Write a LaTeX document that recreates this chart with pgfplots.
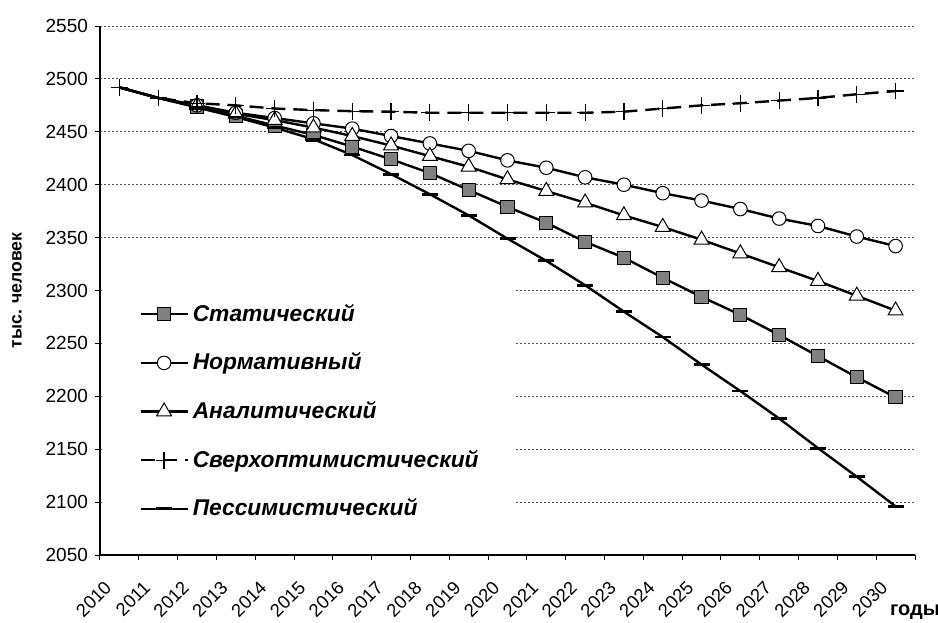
\documentclass[border=0pt]{standalone}
\usepackage{fontspec}
\setmainfont{Liberation Sans}
\usepackage{pgfplots}
\pgfplotsset{compat=1.18}
\definecolor{sqgray}{HTML}{808080}
\begin{document}
\begin{tikzpicture}
\path[use as bounding box] (-50pt,-33.5pt) rectangle (419pt,277.5pt);
\begin{axis}[
  at={(0,0)}, anchor=south west,
  scale only axis, width=407.5pt, height=264.5pt,
  xmin=-0.5, xmax=20.5, ymin=2050, ymax=2550,
  clip=false,
  axis x line*=bottom, axis y line*=left,
  axis line style={line width=0.6pt},
  xtick={0,...,20},
  xticklabels={2010,2011,2012,2013,2014,2015,2016,2017,2018,2019,2020,2021,2022,2023,2024,2025,2026,2027,2028,2029,2030},
  major x tick style={draw=none},
  minor xtick={-0.5,0.5,...,20.5},
  ytick={2050,2100,...,2550},
  tick align=outside,
  major tick length=2.5pt, minor tick length=2.5pt,
  tick style={black, line width=0.5pt},
  ymajorgrids,
  grid style={black!70, line width=0.5pt, dash pattern=on 1pt off 1pt},
  /pgf/number format/assume math mode=true,
  /pgf/number format/1000 sep={},
  yticklabel style={font=\fontsize{9.5}{11}\selectfont},
  xticklabel style={font=\fontsize{9.2}{11}\selectfont, xshift=-8pt, yshift=-5pt, rotate=45, anchor=north east},
  legend cell align=left,
  legend style={at={(axis cs:0.35,2295)}, anchor=north west, draw=none, fill=none,
    font=\bfseries\itshape\fontsize{11.4}{13}\selectfont, row sep=10.3pt},
  every axis plot/.append style={line width=1.2pt},
  legend image code/.code={\draw[mark indices={2}] plot coordinates {(0pt,0pt) (11.75pt,0pt) (23.5pt,0pt)};},
]
\fill[white] (axis cs:-0.45,2085) rectangle (axis cs:10.22,2306);
\addplot[black, mark=square*, mark size=3.3pt, mark indices={3,...,21}, mark options={solid, fill=sqgray, draw=black, line width=0.5pt}] coordinates {
(0,2492)(1,2482)(2,2474)(3,2465)(4,2456)(5,2447)(6,2436)(7,2424)(8,2411)(9,2395)(10,2379)
(11,2364)(12,2346)(13,2331)(14,2312)(15,2294)(16,2277)(17,2258)(18,2238)(19,2218)(20,2199)};
\addlegendentry{Статический}
\addplot[black, mark=*, mark size=3.4pt, mark indices={3,...,21}, mark options={solid, fill=white, draw=black, line width=0.5pt}] coordinates {
(0,2492)(1,2482)(2,2475)(3,2468)(4,2463)(5,2458)(6,2453)(7,2446)(8,2439)(9,2432)(10,2423)
(11,2416)(12,2407)(13,2400)(14,2392)(15,2385)(16,2377)(17,2368)(18,2361)(19,2351)(20,2342)};
\addlegendentry{Нормативный}
\addplot[black, mark=triangle*, mark size=4.3pt, mark indices={3,...,21}, mark options={solid, fill=white, draw=black, line width=0.5pt}] coordinates {
(0,2492)(1,2482)(2,2475)(3,2467)(4,2461)(5,2454)(6,2446)(7,2437)(8,2427)(9,2417)(10,2405)
(11,2394)(12,2383)(13,2371)(14,2360)(15,2348)(16,2335)(17,2322)(18,2309)(19,2295)(20,2281)};
\addlegendentry{Аналитический}
\addplot[black, dash pattern=on 7pt off 4pt, mark=+, mark size=4.2pt, mark options={solid, line width=0.6pt}] coordinates {
(0,2492)(1,2482)(2,2477)(3,2475)(4,2472)(5,2470.5)(6,2469.5)(7,2469)(8,2468)(9,2468)(10,2468)
(11,2468)(12,2468)(13,2469)(14,2472)(15,2475)(16,2477)(17,2479.5)(18,2482)(19,2485.5)(20,2488.5)};
\addlegendentry{Сверхоптимистический}
\addplot[black, mark=-, mark size=4pt, mark indices={3,...,21}, mark options={solid, line width=1.4pt}] coordinates {
(0,2492)(1,2482)(2,2473)(3,2464)(4,2454)(5,2443)(6,2428)(7,2410)(8,2391)(9,2371)(10,2349)
(11,2328)(12,2305)(13,2280)(14,2256)(15,2230)(16,2205)(17,2179)(18,2151)(19,2124)(20,2096)};
\addlegendentry{Пессимистический}
\node[rotate=90, font=\bfseries\fontsize{8.8}{10}\selectfont] at ([xshift=-41.5pt]rel axis cs:0,0.5) {тыс. человек};
\node[font=\bfseries\fontsize{10}{12}\selectfont] at ([xshift=0pt, yshift=-28.5pt]rel axis cs:1,0) {годы};
\end{axis}
\end{tikzpicture}
\end{document}
